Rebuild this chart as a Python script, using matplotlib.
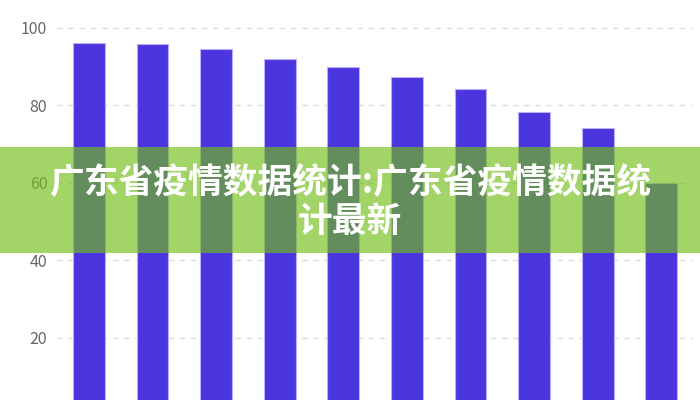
import matplotlib
matplotlib.use("Agg")
import matplotlib.pyplot as plt
from matplotlib.patches import Rectangle

plt.rcParams['font.family'] = ['Noto Sans CJK SC', 'DejaVu Sans']

# data (x labels are cut off in the reference)
categories = ["1", "2", "3", "4", "5", "6", "7", "8", "9", "10"]
values = [96.0, 95.9, 94.5, 92.0, 90.0, 87.4, 84.3, 78.4, 74.1, 60.0]
yticks = [20, 40, 60, 80, 100]
title = "广东省疫情数据统计:广东省疫情数据统\n计最新"

fig = plt.figure(figsize=(7, 4), dpi=100)
ax = fig.add_axes([57/700, 0, 636/700, 1])

x = range(len(categories))
ax.bar(x, values, width=0.5, color="#4b35de", edgecolor="#b9b0f5", linewidth=0.8, zorder=3)

ax.set_xlim(-0.5, len(categories) - 0.5)
ax.set_ylim(4, 107.2)
ax.set_yticks(yticks)
ax.set_xticks([])
ax.tick_params(axis='y', length=0, labelsize=11.5, labelcolor="#666666", pad=7)
ax.grid(axis='y', color="#dddddd", linestyle=(0, (4, 4)), linewidth=1, zorder=0)
for s in ax.spines.values():
    s.set_visible(False)

# green banner with the title over the chart
fig.patches.append(Rectangle((0, 1 - 253/400), 1, 106/400, transform=fig.transFigure,
                             facecolor="#70bd17", alpha=0.65, edgecolor="none", zorder=5))
fig.text(0.5, 1 - 202/400, title, ha='center', va='center', color='white',
         fontsize=25, fontweight=900, linespacing=1.15, zorder=6)

fig.savefig("out.png", dpi=100)
